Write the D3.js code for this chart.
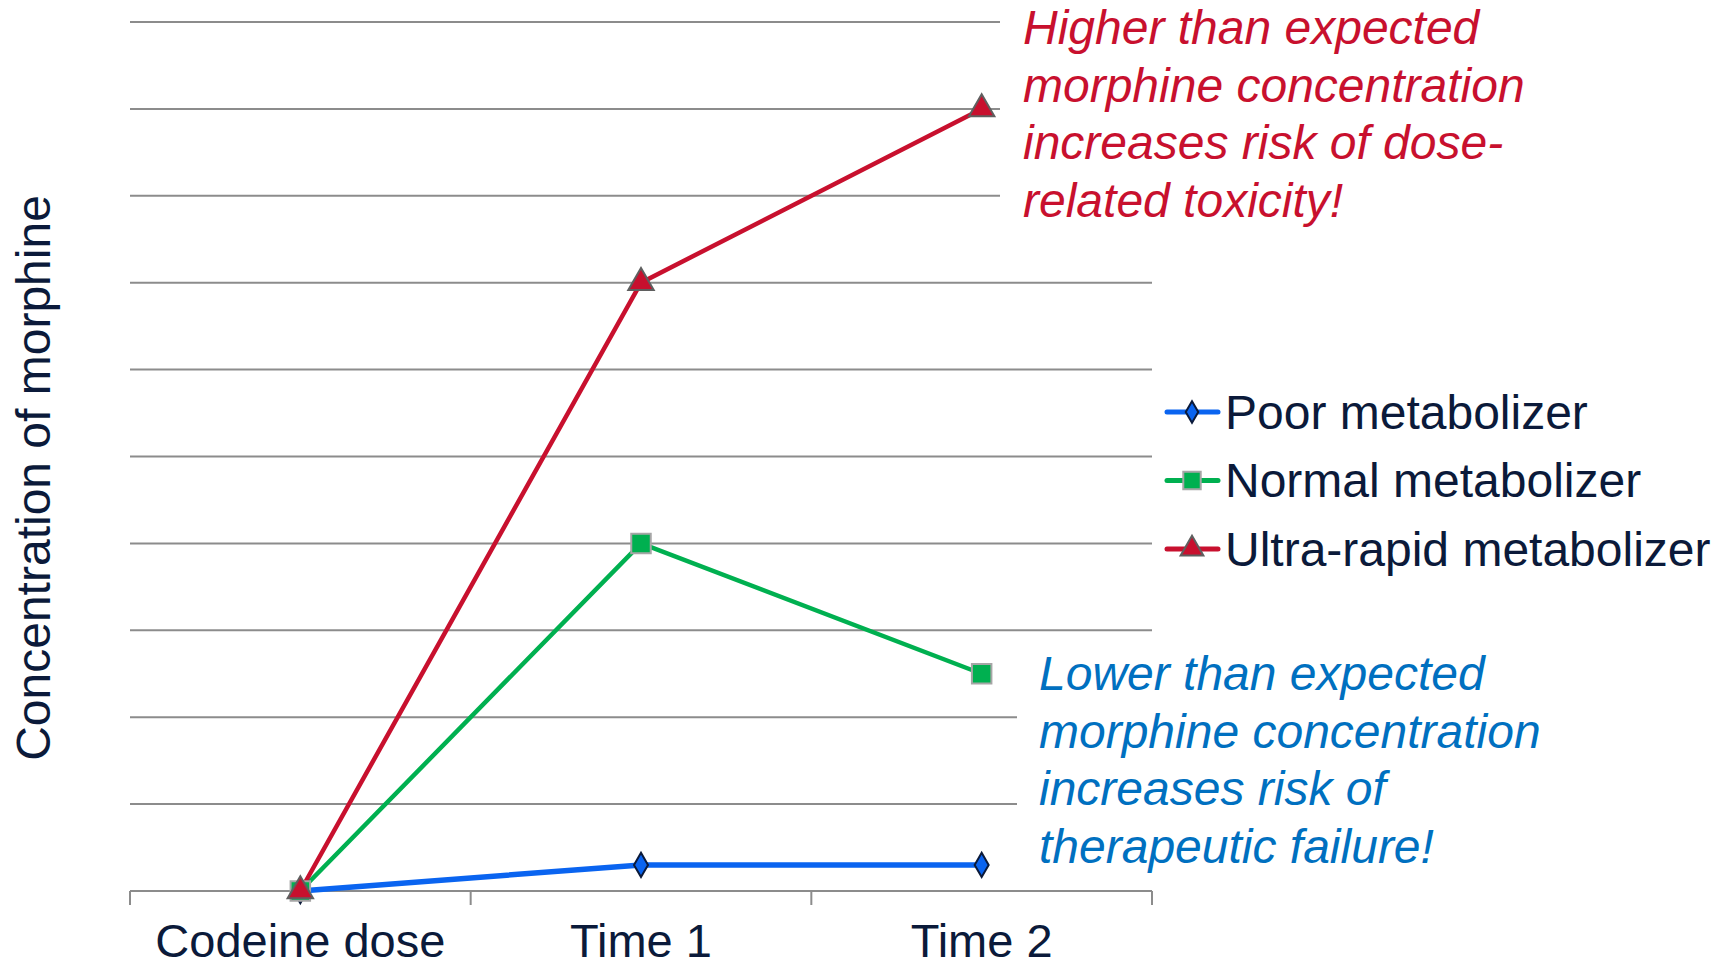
<!DOCTYPE html>
<html>
<head>
<meta charset="utf-8">
<script src="https://cdn.jsdelivr.net/npm/d3@7"></script>
<style>
  body { margin: 0; background: #fff; }
  svg { display: block; font-family: "Liberation Sans", Arial, sans-serif; }
</style>
</head>
<body>
<svg width="1729" height="969"></svg>
<script>
const CATEGORIES = ["Codeine dose", "Time 1", "Time 2"];
const POOR = [0, 0.3, 0.3];
const NORMAL = [0, 4, 2.5];
const ULTRA = [0, 7, 9];
const Y_TICKS = [0, 1, 2, 3, 4, 5, 6, 7, 8, 9, 10];
const SERIES_NAMES = ["Poor metabolizer", "Normal metabolizer", "Ultra-rapid metabolizer"];
const HIGH_NOTE = ["Higher than expected", "morphine concentration", "increases risk of dose-", "related toxicity!"];
const LOW_NOTE = ["Lower than expected", "morphine concentration", "increases risk of", "therapeutic failure!"];

const TEXT = "#0b1a3a";
const GRID = "#8c8c8c";

const main = function() {
  const svg = d3.select("svg");
  const left = 130;
  const right = 1152;
  const top = 22;
  const bottom = 891;

  const x = d3
    .scaleBand()
    .domain(CATEGORIES)
    .range([left, right])
    .padding(0);
  const y = d3
    .scaleLinear()
    .domain([0, 10])
    .range([bottom, top]);
  const cx = d => x(d) + x.bandwidth() / 2;

  // gridlines
  svg
    .append("g")
    .selectAll("line")
    .data(Y_TICKS)
    .enter()
    .append("line")
    .attr("x1", left)
    .attr("x2", right)
    .attr("y1", d => y(d))
    .attr("y2", d => y(d))
    .attr("stroke", GRID)
    .attr("stroke-width", 2);

  // boundary ticks under the axis
  const bounds = CATEGORIES.map(c => x(c)).concat([right]);
  svg
    .append("g")
    .selectAll("line")
    .data(bounds)
    .enter()
    .append("line")
    .attr("x1", d => d)
    .attr("x2", d => d)
    .attr("y1", bottom)
    .attr("y2", bottom + 14)
    .attr("stroke", GRID)
    .attr("stroke-width", 2);

  svg
    .append("g")
    .selectAll("text")
    .data(CATEGORIES)
    .enter()
    .append("text")
    .attr("x", cx)
    .attr("y", 957)
    .attr("text-anchor", "middle")
    .attr("font-size", 47)
    .attr("fill", TEXT)
    .text(d => d);

  svg
    .append("text")
    .attr("transform", "translate(33,478) rotate(-90)")
    .attr("text-anchor", "middle")
    .attr("dominant-baseline", "central")
    .attr("font-size", 48)
    .attr("fill", TEXT)
    .text("Concentration of morphine");

  // annotation boxes (white background hides gridlines)
  svg.append("rect").attr("x", 1000).attr("y", 0).attr("width", 600).attr("height", 205).attr("fill", "#fff");
  svg.append("rect").attr("x", 1017).attr("y", 645).attr("width", 600).attr("height", 235).attr("fill", "#fff");

  svg
    .append("g")
    .selectAll("text")
    .data(HIGH_NOTE)
    .enter()
    .append("text")
    .attr("x", 1023)
    .attr("y", (d, i) => 44 + i * 57.5)
    .attr("font-size", 48)
    .attr("font-style", "italic")
    .attr("fill", "#c8102e")
    .text(d => d);

  svg
    .append("g")
    .selectAll("text")
    .data(LOW_NOTE)
    .enter()
    .append("text")
    .attr("x", 1039)
    .attr("y", (d, i) => 690 + i * 57.5)
    .attr("font-size", 48)
    .attr("font-style", "italic")
    .attr("fill", "#0070c0")
    .text(d => d);

  const series = [
    { name: SERIES_NAMES[0], values: POOR, color: "#0a64f0", width: 5.5, symbol: d3.symbolDiamond, size: 170, edge: "#0b1a3a" },
    { name: SERIES_NAMES[1], values: NORMAL, color: "#00b050", width: 4.5, symbol: d3.symbolSquare, size: 380, edge: "#a6a6a6" },
    { name: SERIES_NAMES[2], values: ULTRA, color: "#c8102e", width: 4.5, symbol: d3.symbolTriangle, size: 280, edge: "#5f5f5f" }
  ];

  const line = d3
    .line()
    .x((d, i) => cx(CATEGORIES[i]))
    .y(d => y(d));

  series.forEach(s => {
    svg
      .append("path")
      .attr("d", line(s.values))
      .attr("fill", "none")
      .attr("stroke", s.color)
      .attr("stroke-width", s.width);
  });

  series.forEach(s => {
    svg
      .append("g")
      .selectAll("path")
      .data(s.values)
      .enter()
      .append("path")
      .attr("transform", (d, i) => `translate(${cx(CATEGORIES[i])},${y(d)})`)
      .attr("d", d3.symbol().type(s.symbol).size(s.size))
      .attr("fill", s.color)
      .attr("stroke", s.edge)
      .attr("stroke-width", 2);
  });

  // legend
  const legend = svg
    .append("g")
    .selectAll("g")
    .data(series)
    .enter()
    .append("g")
    .attr("transform", (d, i) => `translate(1167,${412 + i * 68.5})`);

  legend
    .append("line")
    .attr("x1", 0)
    .attr("x2", 51)
    .attr("stroke", d => d.color)
    .attr("stroke-width", 5)
    .attr("stroke-linecap", "round");

  legend
    .append("path")
    .attr("transform", "translate(25,0)")
    .attr("d", d => d3.symbol().type(d.symbol).size(d.size * 0.8)())
    .attr("fill", d => d.color)
    .attr("stroke", d => d.edge)
    .attr("stroke-width", 2);

  legend
    .append("text")
    .attr("x", 58)
    .attr("dominant-baseline", "central")
    .attr("font-size", 48)
    .attr("fill", TEXT)
    .text(d => d.name);
};

window.onload = main;
</script>
</body>
</html>
